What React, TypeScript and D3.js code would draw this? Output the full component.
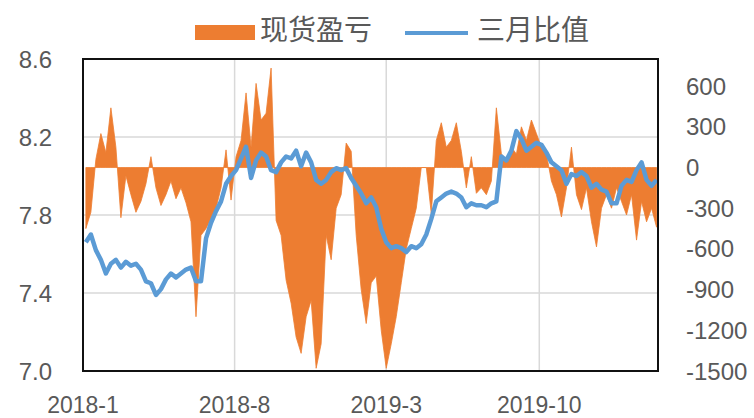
import React from 'react';
import * as d3 from 'd3';

const W = 754;
const H = 418;

// weekly observations, first one on 2018-01-05
const START = new Date(2018, 0, 5);

const spotPnl = [
  -450, -330, 60, 250, 110, 440, 150, -370, -60, -200,
  -330, -250, -120, 80, -150, -280, -200, -100, -230, -150,
  -260, -400, -1100, -500, -450, -380, -300, -150, 130, -240,
  80, 200, 550, 150, 620, 350, 400, 733, -390, -500,
  -830, -1000, -1250, -1370, -1100, -980, -1480, -1300, -500, -680,
  -300, -200, 180, 120, -500, -900, -1150, -850, -800, -1200,
  -1480, -1300, -1100, -850, -600, -450, -300, 0, 0, -340,
  200, 330, 150, 200, 330, 120, -150, 80, -190, -150,
  -200, -100, 440, 100, 60, 150, 100, 300, 200, 350,
  250, 150, 100, -100, -200, -365, -150, 150, -200, -310,
  -150, -400, -585, -300, -200, -300, -150, -250, -350, -200,
  -535, -250, -400, -300, -440,
];

const marchRatio = [
  7.66, 7.70, 7.62, 7.57, 7.50, 7.55, 7.57, 7.53, 7.56, 7.54,
  7.55, 7.52, 7.46, 7.45, 7.39, 7.42, 7.47, 7.50, 7.48, 7.50,
  7.52, 7.53, 7.46, 7.46, 7.68, 7.76, 7.82, 7.87, 7.96, 8.00,
  8.03, 8.09, 8.15, 7.99, 8.08, 8.12, 8.10, 8.03, 8.02, 8.07,
  8.10, 8.09, 8.13, 8.05, 8.12, 8.07, 7.98, 7.96, 7.98, 8.02,
  8.04, 8.03, 8.04, 7.99, 7.95, 7.91, 7.86, 7.89, 7.84, 7.73,
  7.66, 7.63, 7.64, 7.63, 7.61, 7.64, 7.63, 7.65, 7.70, 7.78,
  7.87, 7.89, 7.91, 7.92, 7.91, 7.89, 7.84, 7.86, 7.85, 7.85,
  7.84, 7.86, 7.87, 8.10, 8.08, 8.13, 8.23, 8.19, 8.13, 8.15,
  8.17, 8.16, 8.12, 8.07, 8.05, 8.03, 7.96, 8.01, 8.00, 8.02,
  8.00, 7.94, 7.96, 7.93, 7.92, 7.86, 7.86, 7.95, 7.98, 7.97,
  8.03, 8.07, 7.98, 7.95, 7.98,
];

const leftTicks = [7.0, 7.4, 7.8, 8.2, 8.6];
const rightTicks = [-1500, -1200, -900, -600, -300, 0, 300, 600];
const xTickDates = [new Date(2018, 0, 1), new Date(2018, 7, 1), new Date(2019, 2, 1), new Date(2019, 9, 1)];
const xTickLabels = ['2018-1', '2018-8', '2019-3', '2019-10'];

const ORANGE = '#ED7D31';
const BLUE = '#5B9BD5';
const TXT = '#595959';
const NUM_FONT = '"Liberation Sans", Arial, sans-serif';
const CJK_FONT = '"Noto Sans CJK SC", sans-serif';

export default function App() {
  const left = 83, right = 658, top = 59, bottom = 371;

  const dates = spotPnl.map((_, i) => d3.timeDay.offset(START, i * 7));

  const x = d3.scaleTime()
    .domain([new Date(2018, 0, 1), new Date(2020, 2, 15)])
    .range([left, right]);
  const yL = d3.scaleLinear().domain([7.0, 8.6]).range([bottom, top]);
  const yR = d3.scaleLinear().domain([-1500, 800]).range([bottom, top]);

  // dense daily bars in the original -> drawn as a filled profile against zero
  const area = d3.area<number>()
    .x((_, i) => x(dates[i]))
    .y0(yR(0))
    .y1((d) => yR(d));

  const line = d3.line<number>()
    .x((_, i) => x(dates[i]))
    .y((d) => yL(d));

  return (
    <svg width={W} height={H} style={{ position: 'absolute', left: 0, top: 0, background: '#fff' }}>
      <defs>
        <clipPath id="plot">
          <rect x={left} y={top} width={right - left} height={bottom - top} />
        </clipPath>
      </defs>

      {/* grid */}
      {leftTicks.map((t) => (
        <line key={'h' + t} x1={left} x2={right} y1={yL(t)} y2={yL(t)} stroke="#d9d9d9" strokeWidth={1.5} />
      ))}
      {xTickDates.slice(1).map((d, i) => (
        <line key={'v' + i} x1={x(d)} x2={x(d)} y1={top} y2={bottom} stroke="#d9d9d9" strokeWidth={1.5} />
      ))}

      <g clipPath="url(#plot)">
        <path d={area(spotPnl) || ''} fill={ORANGE} stroke={ORANGE} strokeWidth={0.8} strokeLinejoin="round" />
        <path d={line(marchRatio) || ''} fill="none" stroke={BLUE} strokeWidth={4.5} strokeLinejoin="round" />
      </g>

      {/* frame */}
      <rect x={left} y={top} width={right - left} height={bottom - top} fill="none" stroke="#111" strokeWidth={2} />

      {/* left axis */}
      {leftTicks.map((t) => (
        <text key={'l' + t} x={52} y={yL(t)} textAnchor="end" dominantBaseline="central"
          fontFamily={NUM_FONT} fontSize={24} fill={TXT}>
          {t.toFixed(1)}
        </text>
      ))}

      {/* right axis */}
      {rightTicks.map((t) => (
        <text key={'r' + t} x={686} y={yR(t)} textAnchor="start" dominantBaseline="central"
          fontFamily={NUM_FONT} fontSize={24} fill={TXT}>
          {t}
        </text>
      ))}

      {/* x axis */}
      {xTickDates.map((d, i) => (
        <text key={'x' + i} x={x(d)} y={413} textAnchor="middle"
          fontFamily={NUM_FONT} fontSize={23} fill={TXT}>
          {xTickLabels[i]}
        </text>
      ))}

      {/* legend */}
      <rect x={195} y={25} width={60} height={15} fill={ORANGE} />
      <text x={260} y={28} dominantBaseline="central" fontFamily={CJK_FONT} fontSize={28} fill={TXT}>现货盈亏</text>
      <line x1={405} x2={468} y1={33} y2={33} stroke={BLUE} strokeWidth={4} />
      <text x={477} y={28} dominantBaseline="central" fontFamily={CJK_FONT} fontSize={28} fill={TXT}>三月比值</text>
    </svg>
  );
}
